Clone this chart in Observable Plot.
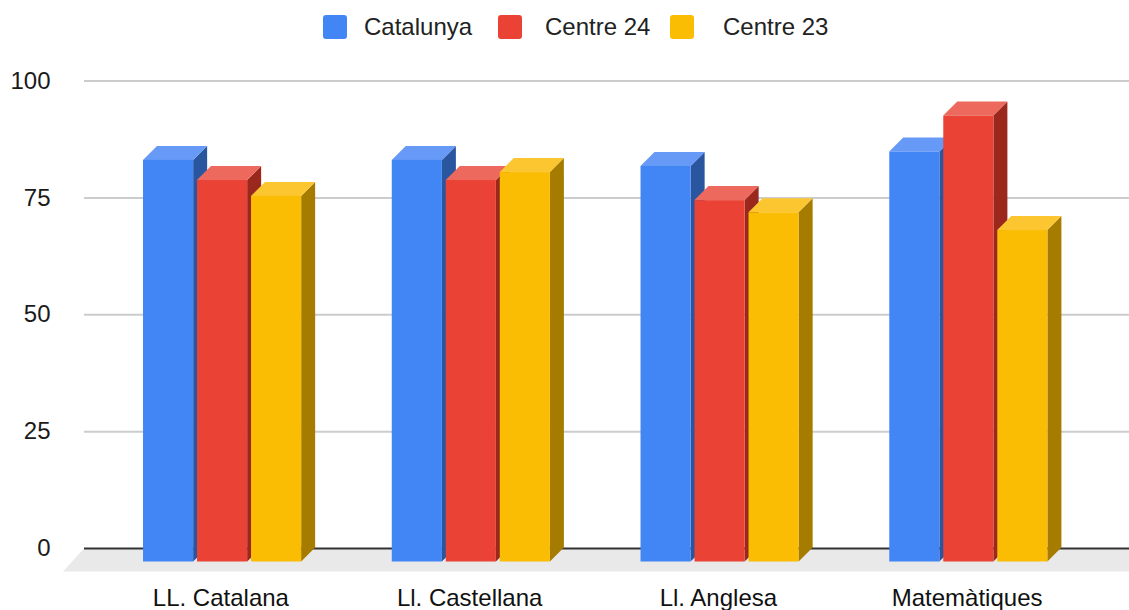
<!DOCTYPE html>
<html>
<head>
<meta charset="utf-8">
<script src="https://cdn.jsdelivr.net/npm/d3@7"></script>
<script src="https://cdn.jsdelivr.net/npm/@observablehq/plot@0.6"></script>
<style>
html,body{margin:0;padding:0;background:#fff;overflow:hidden}
#legend{height:54px;position:relative;font:24px "Liberation Sans",Arial,sans-serif;color:#222}
#legend i{position:absolute;top:15px;width:24px;height:24px;border-radius:3px}
#legend span{position:absolute;top:13px;line-height:28px;white-space:nowrap}
svg{display:block}
</style>
</head>
<body>
<div id="legend"></div>
<div id="chart"></div>
<script>
const subjects = ["LL. Catalana", "Ll. Castellana", "Ll. Anglesa", "Matemàtiques"];
const series = ["Catalunya", "Centre 24", "Centre 23"];
const catalunya = [85.9, 85.9, 84.6, 87.7];
const centre24 = [81.6, 81.6, 77.3, 95.4];
const centre23 = [78.2, 83.3, 74.7, 70.9];
const frontColors = ["#4285F4", "#EA4335", "#FBBC04"];
const sideColors = ["#2A56A0", "#9A281D", "#A67C00"];
const topColors = ["#669AF6", "#EE695D", "#FBC62F"];
const yTicks = [0, 25, 50, 75, 100];
const legendSquareX = [323, 498, 670];
const legendTextX = [364, 545, 723];

const STEP = 0.2171, BAR = 0.2015, START = 0.181;
const table = [];
[catalunya, centre24, centre23].forEach((vals, s) =>
  vals.forEach((value, i) => table.push({
    subject: subjects[i], series: series[s], value,
    x1: i + START + s * STEP, x2: i + START + s * STEP + BAR
  })));

const DEPTH = 14;

function faces(index, scales, values, dims, ctx, next) {
  const g = next(index, scales, values, dims, ctx);
  const rects = g.querySelectorAll("rect");
  const ns = "http://www.w3.org/2000/svg";
  rects.forEach((r, k) => {
    const s = series.indexOf(table[index[k]].series);
    const x = +r.getAttribute("x"), y = +r.getAttribute("y");
    const w = +r.getAttribute("width"), h = +r.getAttribute("height");
    const side = document.createElementNS(ns, "polygon");
    side.setAttribute("points", `${x+w},${y} ${x+w+DEPTH},${y-DEPTH} ${x+w+DEPTH},${y+h-DEPTH} ${x+w},${y+h}`);
    side.setAttribute("fill", sideColors[s]);
    const top = document.createElementNS(ns, "polygon");
    top.setAttribute("points", `${x},${y} ${x+DEPTH},${y-DEPTH} ${x+w+DEPTH},${y-DEPTH} ${x+w},${y}`);
    top.setAttribute("fill", topColors[s]);
    g.insertBefore(side, r);
    g.insertBefore(top, r);
  });
  return g;
}

function floor(index, scales, values, dims, ctx, next) {
  const g = next(index, scales, values, dims, ctx);
  const y0 = scales.y(0);
  const left = dims.marginLeft;
  const poly = document.createElementNS("http://www.w3.org/2000/svg", "polygon");
  poly.setAttribute("points", `${left},${y0} ${dims.width},${y0} ${dims.width},${y0+23} ${left-21},${y0+23}`);
  poly.setAttribute("fill", "#E9E9E9");
  poly.setAttribute("stroke", "none");
  g.insertBefore(poly, g.firstChild);
  return g;
}

const chart = Plot.plot({
  width: 1129,
  height: 556,
  marginLeft: 84,
  marginRight: 0,
  marginTop: 26.5,
  marginBottom: 62,
  style: {fontFamily: '"Liberation Sans", Arial, sans-serif', background: "#fff"},
  x: {domain: [0, 4], range: [98, 1093], label: null},
  y: {domain: [0, 100], label: null},
  color: {domain: series, range: frontColors},
  marks: [
    Plot.ruleY([0], {stroke: "#333", strokeWidth: 2, render: floor}),
    Plot.ruleY(yTicks.filter(d => d > 0), {stroke: "#CCCCCC", strokeWidth: 2}),
    Plot.axisY({ticks: yTicks, anchor: "left", tickSize: 0, tickPadding: 34, label: null,
      fontSize: 24, color: "#1a1a1a", tickFormat: d => String(d)}),
    Plot.axisX({ticks: subjects.map((d, i) => i + 0.5), anchor: "bottom", tickSize: 0, tickPadding: 40,
      label: null, fontSize: 24, color: "#111", dx: -2, tickFormat: d => subjects[d - 0.5]}),
    Plot.rect(table, {x1: "x1", x2: "x2", y1: 0, y2: "value", fill: "series", dy: 13.5, render: faces})
  ]
});
document.getElementById("chart").appendChild(chart);

const legend = document.getElementById("legend");
series.forEach((name, i) => {
  const sw = document.createElement("i");
  sw.style.left = legendSquareX[i] + "px";
  sw.style.background = frontColors[i];
  const label = document.createElement("span");
  label.style.left = legendTextX[i] + "px";
  label.textContent = name;
  legend.append(sw, label);
});
</script>
</body>
</html>
